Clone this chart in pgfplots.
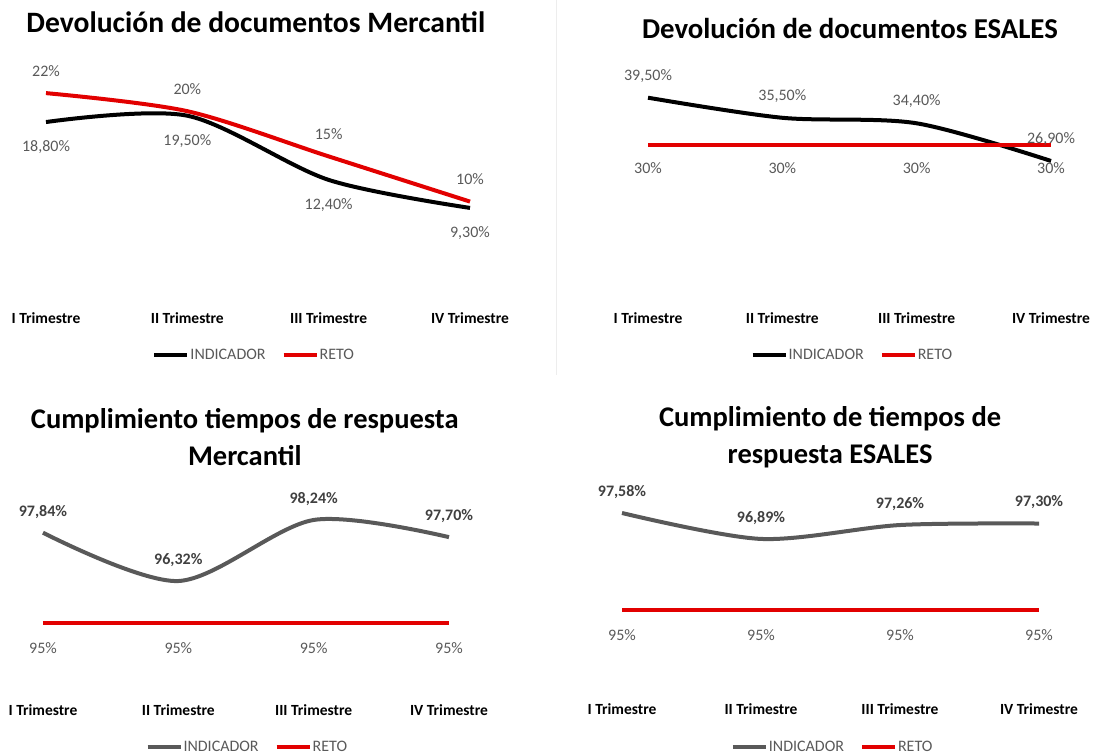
\documentclass[border=0pt]{standalone}
\usepackage{pgfplots}
\pgfplotsset{compat=1.18}
\usepackage{fontspec}
\setmainfont{Carlito}
\definecolor{reto}{RGB}{226,0,0}
\definecolor{ind}{RGB}{0,0,0}
\definecolor{indg}{RGB}{89,89,89}
\definecolor{lbl}{RGB}{89,89,89}
\definecolor{lbld}{RGB}{64,64,64}

\pgfplotsset{
  panel/.style={
    scale only axis, clip=false,
    xmin=0, xmax=3, xtick={0,1,2,3},
    xticklabels={I Trimestre, II Trimestre, III Trimestre, IV Trimestre},
    axis line style={draw=none}, major tick length=0pt, ytick=\empty,
    xticklabel style={font=\bfseries\fontsize{15.5}{16}\selectfont, anchor=center},
    legend columns=2,
    legend style={draw=none, fill=none, anchor=center, font=\fontsize{16}{17}\selectfont, text=lbl, inner sep=0pt,
      nodes={inner sep=1pt},
      /tikz/every even column/.append style={column sep=15pt}},
    legend image code/.code={\draw[#1] (0pt,0pt) -- (33pt,0pt);},
    title style={font=\bfseries\fontsize{28.5}{37}\selectfont, anchor=center, align=center},
    point meta=explicit symbolic,
    nodes near coords,
  },
  above lbl/.style={every node near coord/.append style={anchor=center, yshift=#1, font=\fontsize{16}{17}\selectfont, text=lbl}},
  above lblb/.style={every node near coord/.append style={anchor=center, yshift=#1, font=\bfseries\fontsize{16}{17}\selectfont, text=lbld}},
}

\begin{document}
\begin{tikzpicture}
\useasboundingbox (0,0) rectangle (1094pt,755pt);
\draw[black!7, line width=0.8pt] (556pt,755pt) -- (556pt,380pt);

% Panel 1
\begin{axis}[panel, at={(46pt,463pt)}, anchor=south west, width=424pt, height=226pt, ymin=0, ymax=25,
  title={Devolución de documentos Mercantil}, title style={at={(0.495,1.181)}, yshift=-3pt, font=\bfseries\fontsize{29.6}{37}\selectfont},
  xticklabel style={yshift=-26pt},
  legend style={at={(0.49,-0.279)}}]
\addplot[ind, line width=4pt, smooth, above lbl=-25pt] coordinates {(0,18.8) [18,80\%] (1,19.5) [19,50\%] (2,12.4) [12,40\%] (3,9.3) [9,30\%]};
\addlegendentry{INDICADOR}
\addplot[reto, line width=4pt, smooth, above lbl=22pt] coordinates {(0,22) [22\%] (1,20) [20\%] (2,15) [15\%] (3,10) [10\%]};
\addlegendentry{RETO}
\end{axis}

% Panel 2
\begin{axis}[panel, at={(648pt,459pt)}, anchor=south west, width=403pt, height=251pt, ymin=0, ymax=50,
  title={Devolución de documentos ESALES}, title style={at={(0.501,1.052)}, yshift=-3pt, font=\bfseries\fontsize{28.8}{37}\selectfont},
  xticklabel style={yshift=-22pt},
  legend style={at={(0.506,-0.235)}}]
\addplot[ind, line width=4pt, smooth, above lbl=22pt] coordinates {(0,39.5) [39,50\%] (1,35.5) [35,50\%] (2,34.4) [34,40\%] (3,26.9) [26,90\%]};
\addlegendentry{INDICADOR}
\addplot[reto, line width=4pt, smooth, above lbl=-23pt] coordinates {(0,30) [30\%] (1,30) [30\%] (2,30) [30\%] (3,30) [30\%]};
\addlegendentry{RETO}
\end{axis}

% Panel 3
\begin{axis}[panel, at={(43pt,68.4pt)}, anchor=south west, width=406pt, height=190.8pt, ymin=93, ymax=99,
  title={Cumplimiento tiempos de respuesta\\Mercantil}, title style={at={(0.497,1.300)}, yshift=-5pt},
  xticklabel style={yshift=-23.4pt},
  legend style={at={(0.502,-0.317)}}]
\addplot[indg, line width=4pt, smooth, above lblb=21pt] coordinates {(0,97.84) [97,84\%] (1,96.32) [96,32\%] (2,98.24) [98,24\%] (3,97.70) [97,70\%]};
\addlegendentry{INDICADOR}
\addplot[reto, line width=4pt, smooth, above lbl=-25pt] coordinates {(0,95) [95\%] (1,95) [95\%] (2,95) [95\%] (3,95) [95\%]};
\addlegendentry{RETO}
\end{axis}

% Panel 4
\begin{axis}[panel, at={(622pt,69.8pt)}, anchor=south west, width=417pt, height=225.6pt, ymin=93, ymax=99,
  title={Cumplimiento de tiempos de\\respuesta ESALES}, title style={at={(0.499,1.102)}, yshift=-7pt},
  xticklabel style={yshift=-24pt},
  legend style={at={(0.504,-0.274)}}]
\addplot[indg, line width=4pt, smooth, above lblb=21pt] coordinates {(0,97.58) [97,58\%] (1,96.89) [96,89\%] (2,97.26) [97,26\%] (3,97.30) [97,30\%]};
\addlegendentry{INDICADOR}
\addplot[reto, line width=4pt, smooth, above lbl=-25pt] coordinates {(0,95) [95\%] (1,95) [95\%] (2,95) [95\%] (3,95) [95\%]};
\addlegendentry{RETO}
\end{axis}
\end{tikzpicture}
\end{document}
